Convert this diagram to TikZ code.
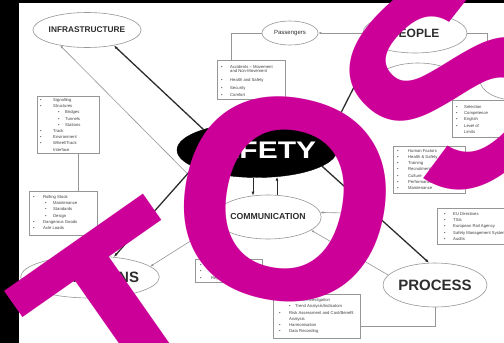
\documentclass[tikz,border=0pt]{standalone}
\usepackage{fontspec}
\setmainfont{Liberation Sans}
\usetikzlibrary{shapes.geometric,arrows.meta,calc}
\definecolor{mag}{RGB}{204,0,153}
\definecolor{lgray}{RGB}{150,150,150}
\definecolor{dgray}{RGB}{45,45,45}
\pgfdeclarelayer{bg}
\pgfsetlayers{bg,main}
\newcommand\bu[2]{\makebox[#1][l]{\textbullet}#2}
\newcommand\sbu[3]{\hspace*{#1}\makebox[#2][l]{\textbullet}#3}
\begin{document}
\begin{tikzpicture}[x=1pt,y=-1pt,
  oval/.style={ellipse, draw=lgray, line width=0.6pt, fill=white, inner sep=0pt, text=dgray},
  lbox/.style={draw=lgray, line width=0.6pt, fill=white, rectangle, inner sep=0pt, anchor=north west},
  ltext/.style={font=\fontsize{4.2}{6.2}\selectfont, text=black!75, align=left, inner sep=0pt, anchor=north west},
  thinl/.style={draw=lgray, line width=0.6pt},
  thickl/.style={draw=dgray, line width=1.3pt},
  tip/.style={-{Latex[length=4pt,width=3pt]}},
  stip/.style={-{Latex[length=3pt,width=2.5pt]}},
  bigl/.style={font=\fontsize{288}{288}\selectfont\bfseries, text=mag, inner sep=0pt}]
\useasboundingbox (0,0) rectangle (504,343);
\fill[black] (0,0) rectangle (504,343);
\fill[white] (19,3) rectangle (504,343);

% ellipses
\node[oval, minimum width=100pt, minimum height=35pt, font=\fontsize{8.3}{8}\selectfont\bfseries] (INFRA) at (87,30) {INFRASTRUCTURE};
\node[oval, minimum width=56pt, minimum height=24pt, font=\fontsize{6}{6}\selectfont] (PASS) at (290,33) {Passengers};
\node[oval, minimum width=104pt, minimum height=40pt, font=\fontsize{12}{12}\selectfont\bfseries] (PEOPLE) at (415,33) {PEOPLE};
\node[oval, minimum width=90pt, minimum height=44pt] (HID) at (418,85) {};
\node[oval, minimum width=70pt, minimum height=40pt] (STAFF) at (515,80) {};
\node[ellipse, fill=black, draw=black, minimum width=160pt, minimum height=55pt, inner sep=0pt] (SAFETY) at (257,150) {};
\node[text=white, font=\fontsize{24}{24}\selectfont\bfseries, xscale=1.25, inner sep=0pt] (SAFETYT) at (SAFETY.center) {SAFETY};
\node[oval, minimum width=96pt, minimum height=44pt, font=\fontsize{8.7}{8}\selectfont\bfseries] (COMM) at (268,217) {COMMUNICATION};
\node[oval, minimum width=120pt, minimum height=42pt, font=\fontsize{15}{15}\selectfont\bfseries] (OPER) at (90,277) {OPERATIONS};
\node[oval, minimum width=104pt, minimum height=44pt, font=\fontsize{15}{15}\selectfont\bfseries] (PROC) at (435,285) {PROCESS};

% boxes
\node[lbox, minimum width=62pt, minimum height=57pt] (b1) at (37,96) {};
\node[ltext] (b1t) at (40,98.2) {\bu{13pt}{Signalling}\\ \bu{13pt}{Structures}\\ \sbu{18pt}{7pt}{Bridges}\\ \sbu{18pt}{7pt}{Tunnels}\\ \sbu{18pt}{7pt}{Stations}\\ \bu{13pt}{Track}\\ \bu{13pt}{Environment}\\ \bu{13pt}{Wheel/Track}\\ \hspace*{13pt}Interface};
\node[lbox, minimum width=68pt, minimum height=44pt] (b2) at (29,191) {};
\node[ltext] (b2t) at (33,195.2) {\bu{10pt}{Rolling Stock}\\ \sbu{12pt}{8pt}{Maintenance}\\ \sbu{12pt}{8pt}{Standards}\\ \sbu{12pt}{8pt}{Design}\\ \bu{10pt}{Dangerous Goods}\\ \bu{10pt}{Axle Loads}};
\node[lbox, minimum width=68pt, minimum height=39pt] (bp) at (217,60) {};
\node[ltext, font=\fontsize{4.2}{7.5}\selectfont] (bpt) at (221,65.2) {\bu{9pt}{Accidents -- Movement}\\[-3pt] \hspace*{9pt}and Non-Movement\\[1pt] \bu{9pt}{Health and Safety}\\[0.5pt] \bu{9pt}{Security}\\[-0.5pt] \bu{9pt}{Comfort}};
\node[lbox, minimum width=72pt, minimum height=47pt] (bh) at (393,146) {};
\node[ltext] (bht) at (397,149.2) {\bu{11pt}{Human Factors}\\ \bu{11pt}{Health \& Safety}\\ \bu{11pt}{Training}\\ \bu{11pt}{Recruitment}\\ \bu{11pt}{Culture}\\ \bu{11pt}{Performance}\\ \bu{11pt}{Maintenance}};
\node[lbox, minimum width=65pt, minimum height=37pt] (bs) at (452,100) {};
\node[ltext] (bst) at (456,105.2) {\bu{8pt}{Selection}\\ \bu{8pt}{Competence}\\ \bu{8pt}{English}\\ \bu{8pt}{Level of}\\ \hspace*{8pt}Limits};
\node[lbox, minimum width=75pt, minimum height=36pt] (be) at (437,208) {};
\node[ltext] (bet) at (444,212.2) {\bu{9pt}{EU Directives}\\ \bu{9pt}{TSIs}\\ \bu{9pt}{European Rail Agency}\\ \bu{9pt}{Safety Management System}\\ \bu{9pt}{Audits}};
\node[lbox, minimum width=67pt, minimum height=23pt] (bc) at (195,259) {};
\node[ltext, font=\fontsize{4.2}{6.5}\selectfont] (bct) at (200,263.2) {\bu{11pt}{Language}\\ \bu{11pt}{Briefings}\\ \bu{11pt}{Reporting}};
\node[lbox, minimum width=87pt, minimum height=44pt] (bpr) at (273,294) {};
\node[ltext] (bprt) at (279,298.5) {\bu{10pt}{Accident Investigation}\\ \sbu{10pt}{6pt}{Trend Analysis/Indicators}\\ \bu{10pt}{Risk Assessment and Cost/Benefit}\\ \hspace*{10pt}Analysis\\ \bu{10pt}{Harmonisation}\\ \bu{10pt}{Data Recording}};

% connectors on background
\begin{pgfonlayer}{bg}
\draw[thinl] ($(b1.north west)+(11,0)$) -- ++(0,-56);
\draw[thinl] ($(bh.north west)+(22,0)$) -- ++(0,-40);
\draw[thinl] ($(be.south west)+(19,0)$) -- ++(0,22);
\draw[thinl] ($(bc.north west)+(50,0)$) -- ++(0,-25);
\end{pgfonlayer}
\draw[thinl] ($(b1.south west)+(41,0)$) -- ($(b2.north west)+(49,0)$);
\draw[thinl] (PASS.west) -| ($(bp.north west)+(14,0)$);
\draw[thinl] (PROC.south) |- ($(bpr.north east)+(0,32)$);
\draw[thinl, stip] (PEOPLE.west) -- (PASS.east);
\draw[thinl, stip] (PEOPLE.east) -| (STAFF.155);
\draw[thinl, stip] (COMM.168) -- (INFRA.-150);
\draw[thinl, stip] (COMM.-172) -- (OPER.10);
\draw[thinl, stip, {Latex[length=3pt,width=2.5pt]}-] (COMM.-17) -- (PROC.168);
\coordinate (cr) at (345,213);
\draw[thinl, stip] (cr) -- (COMM.5);
\draw[thickl, tip] (SAFETY.159) -- (INFRA.-30);
\draw[thickl, tip] (SAFETY.-165) -- (OPER.40);
\draw[thickl, tip] (SAFETY.10) -- (PEOPLE.-162);
\draw[thickl, tip] (SAFETY.-14) -- (PROC.105);
\draw[dgray, line width=0.9pt, tip] ($(SAFETY.south)+(-4,0)$) -- ($(COMM.north)+(-15,1)$);
\draw[dgray, line width=0.9pt, tip] ($(COMM.north)+(9,0.4)$) -- ($(SAFETY.south)+(20,-1)$);

% overlay letters
\node[bigl, rotate=35] (LT) at (131,324) {T};
\node[bigl, rotate=-11] (LO) at (285,200) {O};
\node[bigl, rotate=44] (LS) at (454,83) {S};
\end{tikzpicture}
\end{document}
